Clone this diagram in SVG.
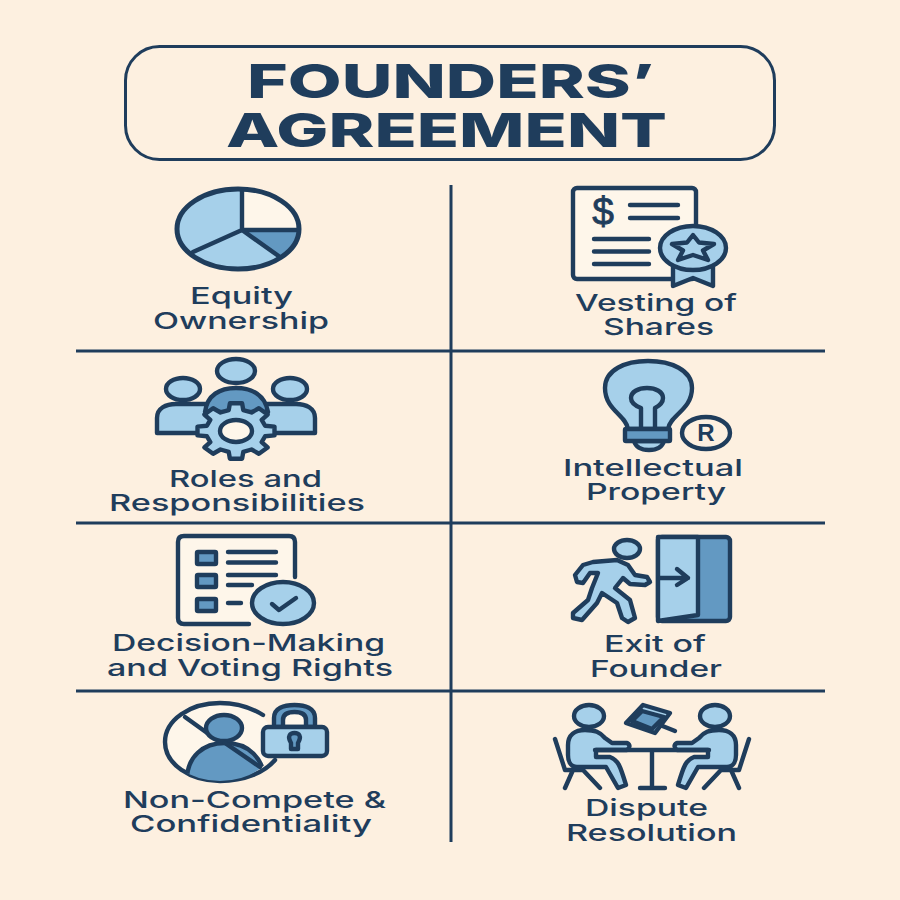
<svg xmlns="http://www.w3.org/2000/svg" width="900" height="900" viewBox="0 0 900 900">
<style>
text{font-family:"Inter","Liberation Sans",sans-serif;fill:#1f3d5c}
.t{font-size:47px;font-weight:800}
.l{font-size:23.5px;font-weight:500}
.s{stroke:#1f3d5c;stroke-width:4.4;stroke-linecap:round;stroke-linejoin:round}
.n{fill:none}.a{fill:#a6d0ea}.m{fill:#6399c2}.p{fill:#fef6ea}
.d{stroke:#1f3d5c;stroke-width:3;fill:none}
</style>
<defs>
<clipPath id="pie"><ellipse cx="238" cy="229" rx="61" ry="40"/></clipPath>
<clipPath id="lockc"><ellipse cx="220" cy="742" rx="55" ry="39"/></clipPath>
<g id="sitter">
<path class="s n" d="M555,739L565,770H582M573,770L565,788M583,770L600,788"/>
<path class="s a" d="M568,745C568,735 575,730 585,730C595,730 600,732 605,738L612,743H627Q632,746 627,750H596V757H610C618,760 620,765 626,785L618,788L606,767H577C570,767 568,760 568,755Z"/>
</g>
</defs>
<rect width="900" height="900" fill="#fdf0e0"/>
<g id="title">
<rect x="125.5" y="46.5" width="649" height="113" rx="34" fill="#fdf0e0" stroke="#1f3d5c" stroke-width="3"/>
<text class="t" x="247" y="98" textLength="407" lengthAdjust="spacingAndGlyphs">FOUNDERS’</text>
<text class="t" x="226" y="147" textLength="441" lengthAdjust="spacingAndGlyphs">AGREEMENT</text>
</g>
<g id="dividers">
<path class="d" d="M451,185V842M76,351H825M76,523H825M76,691H825"/>
</g>
<g id="equity">
<ellipse class="a" cx="238" cy="229" rx="61" ry="40"/>
<g clip-path="url(#pie)">
<path class="p" d="M242,180H305V230H242Z"/>
<path class="m" d="M242,230H305V270H300Z"/>
</g>
<path class="s n" d="M242,190V230H298M193,252L242,230L280,257"/>
<ellipse class="s n" cx="238" cy="229" rx="61" ry="40" style="stroke-width:5"/>
<text class="l" x="190" y="304" textLength="103" lengthAdjust="spacingAndGlyphs">Equity</text>
<text class="l" x="153" y="329" textLength="176" lengthAdjust="spacingAndGlyphs">Ownership</text>
</g>
<g id="vesting">
<rect class="s p" x="573" y="188" width="123" height="91" rx="4"/>
<text x="603" y="225" text-anchor="middle" stroke="#1f3d5c" stroke-width=".8" style="font-family:'Liberation Sans',sans-serif;font-size:39px">$</text>
<path class="s n" d="M630,205H678M630,218H678M594,239H649M594,251.5H649M594,264H649"/>
<path class="s a" d="M673,264V286L693,278L713,286V264Z"/>
<ellipse class="s a" cx="693" cy="248" rx="33" ry="22"/>
<path class="s a" d="M693,235L699,242.5L714,244L703,250.5L708,260L693,255L678,260L683,250.5L672,244L687,242.5Z"/>
<text class="l" x="575" y="311" textLength="162" lengthAdjust="spacingAndGlyphs">Vesting of</text>
<text class="l" x="603" y="335" textLength="111" lengthAdjust="spacingAndGlyphs">Shares</text>
</g>
<g id="roles">
<ellipse class="s a" cx="236" cy="371" rx="19" ry="12"/>
<ellipse class="s a" cx="183" cy="389" rx="17" ry="11"/>
<ellipse class="s a" cx="290" cy="389" rx="17" ry="11"/>
<path class="s a" d="M157,433V418C157,408 166,404 176,404H215V433Z"/>
<path class="s a" d="M315,433V418C315,408 306,404 296,404H257V433Z"/>
<path class="s m" d="M205,412C207,395 220,388 236,388C252,388 265,395 268,412Z"/>
<path class="s a" vector-effect="non-scaling-stroke" transform="translate(236,431) scale(1,.72)" d="M29.1,-7.3L38.5,-6.1L38.5,6.1L29.1,7.3L25.7,15.5L31.6,22.9L22.9,31.6L15.5,25.7L7.3,29.1L6.1,38.5L-6.1,38.5L-7.3,29.1L-15.5,25.7L-22.9,31.6L-31.6,22.9L-25.7,15.5L-29.1,7.3L-38.5,6.1L-38.5,-6.1L-29.1,-7.3L-25.7,-15.5L-31.6,-22.9L-22.9,-31.6L-15.5,-25.7L-7.3,-29.1L-6.1,-38.5L6.1,-38.5L7.3,-29.1L15.5,-25.7L22.9,-31.6L31.6,-22.9L25.7,-15.5Z"/>
<ellipse class="s p" cx="236" cy="431" rx="16" ry="11"/>
<text class="l" x="169" y="487" textLength="153" lengthAdjust="spacingAndGlyphs">Roles and</text>
<text class="l" x="109" y="511" textLength="256" lengthAdjust="spacingAndGlyphs">Responsibilities</text>
</g>
<g id="ip">
<path class="s a" d="M628,429C626,415 605,410 605,388C605,370 625,361 648,361C671,361 692,370 692,388C692,410 670,415 668,429Z"/>
<path class="s n" d="M641,429V408C633,405 631,402 631,398C631,392 638,388 647,388C656,388 663,392 663,398C663,402 661,405 655,408V429"/>
<path class="s a" d="M634,441C636,448 642,450 649,450C656,450 662,448 664,441Z"/>
<rect class="s m" x="625" y="429" width="45" height="12" rx="1"/>
<ellipse class="s n" cx="706" cy="433" rx="24" ry="16"/>
<text x="706" y="441" text-anchor="middle" style="font-family:'Liberation Sans',sans-serif;font-size:24px;font-weight:700">R</text>
<text class="l" x="563" y="476" textLength="180" lengthAdjust="spacingAndGlyphs">Intellectual</text>
<text class="l" x="586" y="500" textLength="140" lengthAdjust="spacingAndGlyphs">Property</text>
</g>
<g id="decision">
<path class="s p" d="M295,577V542Q295,536 289,536H184Q178,536 178,542V618Q178,624 184,624H249"/>
<rect class="s m" x="197" y="552" width="19" height="12" rx="1"/>
<rect class="s m" x="197" y="575" width="19" height="12" rx="1"/>
<rect class="s m" x="197" y="599" width="19" height="12" rx="1"/>
<path class="s n" d="M228,552H276M228,562.5H276M228,575H276M228,585H252M228,603H241"/>
<ellipse class="s a" cx="283" cy="603" rx="31" ry="21"/>
<path class="s n" d="M272,604L279,610L296,598"/>
<text class="l" x="112" y="651" textLength="273" lengthAdjust="spacingAndGlyphs">Decision-Making</text>
<text class="l" x="107" y="676" textLength="286" lengthAdjust="spacingAndGlyphs">and Voting Rights</text>
</g>
<g id="exit">
<rect class="s m" x="658" y="537" width="72" height="84" rx="4"/>
<path class="s a" d="M658,537H698V615L658,621Z"/>
<path class="s n" d="M660,578H688M677,569L688,578L677,585"/>
<ellipse class="s a" cx="627" cy="549" rx="13" ry="9"/>
<path class="s a" d="M593,562L617,560L628,565L635,575L647,577L650,582L645,585L630,584L623,578L615,588L630,600L635,618L628,622L622,618L617,603L602,593L597,603L582,620L573,618L573,613L588,600L592,588L598,573L590,573L583,583L577,582L575,575L583,565Z"/>
<text class="l" x="604" y="652" textLength="102" lengthAdjust="spacingAndGlyphs">Exit of</text>
<text class="l" x="590" y="677" textLength="132" lengthAdjust="spacingAndGlyphs">Founder</text>
</g>
<g id="noncompete">
<ellipse class="p" cx="220" cy="742" rx="55" ry="39"/>
<path class="s n" d="M263,715C250,707 236,703 220,703C190,703 165,720 165,742C165,764 190,781 220,781C245,781 265,772 275,760"/>
<path class="s n" d="M185,717L210,735"/>
<g clip-path="url(#lockc)">
<path class="s m" d="M187,785C185,755 205,743 225,743C248,743 264,757 266,785Z"/>
</g>
<ellipse class="s m" cx="224" cy="728" rx="18" ry="13"/>
<path class="s n" d="M225,743L260,767"/>
<path class="s m" d="M274,727V718C274,708 284,705 294.5,705C305,705 315,708 315,718V727Z"/>
<path class="s p" d="M283,727V720C283,714 288,712 294.5,712C301,712 306,714 306,720V727Z"/>
<rect class="s a" x="263" y="727" width="64" height="29" rx="5"/>
<path class="s m" d="M291,743C287,736 290,733 294.5,733C299,733 302,736 298,743V749H291Z"/>
<text class="l" x="123" y="808" textLength="263" lengthAdjust="spacingAndGlyphs">Non-Compete &amp;</text>
<text class="l" x="130" y="832" textLength="242" lengthAdjust="spacingAndGlyphs">Confidentiality</text>
</g>
<g id="dispute">
<ellipse class="s a" cx="589" cy="716" rx="15" ry="11"/>
<ellipse class="s a" cx="715" cy="716" rx="15" ry="11"/>
<use href="#sitter"/>
<use href="#sitter" transform="translate(1304,0) scale(-1,1)"/>
<path class="s n" d="M595,750H709M652,750V788M640,788H665"/>
<path class="s n" d="M655,723L675,731"/>
<path class="s a" d="M643,705L670,713L655,733L626,723Z"/>
<path class="s m" d="M642,711L664,717L652,729L632,721Z"/>
<text class="l" x="585" y="816" textLength="123" lengthAdjust="spacingAndGlyphs">Dispute</text>
<text class="l" x="566" y="841" textLength="171" lengthAdjust="spacingAndGlyphs">Resolution</text>
</g>
</svg>
